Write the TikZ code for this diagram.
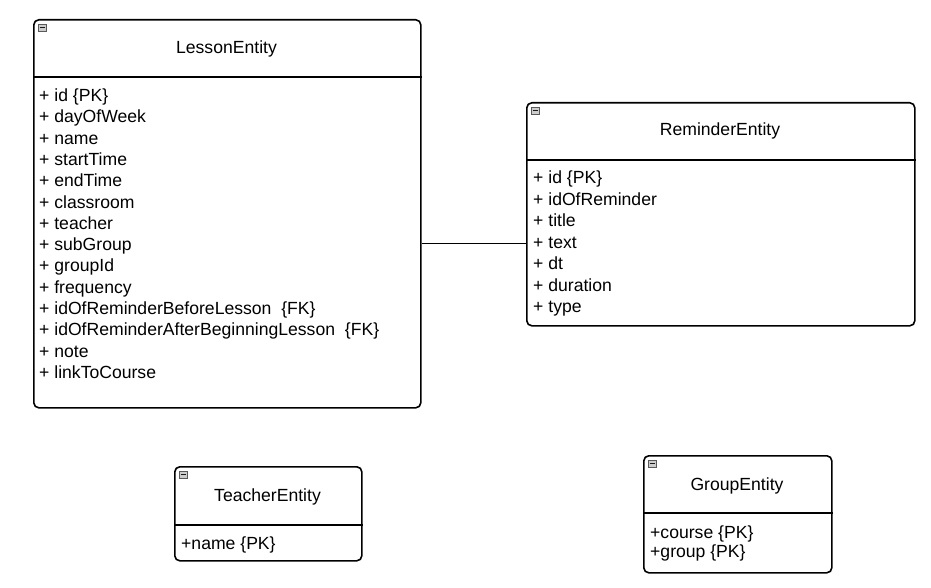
\documentclass[tikz,border=0pt]{standalone}
\usepackage{fontspec}
\setmainfont{Liberation Sans}
\usetikzlibrary{positioning,calc}

\tikzset{
	entity/.style={draw, line width=1.6pt, rounded corners=5pt, anchor=north west, inner sep=0pt},
	ename/.style={font=\fontsize{17.6}{20}\selectfont, anchor=base, inner sep=0pt},
	attr/.style={font=\fontsize{17.6}{20}\selectfont, anchor=base west, inner sep=0pt},
	fold/.style={draw=gray!70!black, fill=gray!40, minimum width=8pt, minimum height=7pt, inner sep=0pt, anchor=north west,
		path picture={\draw[gray!20!black, line width=0.9pt] ($(path picture bounding box.west)+(1.5pt,0)$) -- ($(path picture bounding box.east)+(-1.5pt,0)$);}}
}

\begin{document}
\begin{tikzpicture}[x=1pt,y=1pt]
	\useasboundingbox (0,0) rectangle (931,-588);
	
	% boxes
	\node[entity, minimum width=387pt, minimum height=388pt] (lesson) at (33,-19) {};
	\node[entity, minimum width=388pt, minimum height=223pt] (reminder) at (526,-102) {};
	\node[entity, minimum width=187pt, minimum height=94pt] (teacher) at (174,-466) {};
	\node[entity, minimum width=188pt, minimum height=117pt] (group) at (643,-455) {};
	
	% header lines
	\draw[line width=1.6pt] ($(lesson.north west)+(0,-58)$) -- ($(lesson.north east)+(0,-58)$);
	\draw[line width=1.6pt] ($(reminder.north west)+(0,-58)$) -- ($(reminder.north east)+(0,-58)$);
	\draw[line width=1.6pt] ($(teacher.north west)+(0,-59)$) -- ($(teacher.north east)+(0,-59)$);
	\draw[line width=1.6pt] ($(group.north west)+(0,-58)$) -- ($(group.north east)+(0,-58)$);
	
	% collapse icons
	\node[fold] (lesson-fold) at ($(lesson.north west)+(5,-5)$) {};
	\node[fold] (reminder-fold) at ($(reminder.north west)+(5,-5)$) {};
	\node[fold] (teacher-fold) at ($(teacher.north west)+(5,-5)$) {};
	\node[fold] (group-fold) at ($(group.north west)+(5,-5)$) {};
	
	% titles
	\node[ename] (lesson-name) at (226.5,-54) {LessonEntity};
	\node[ename] (reminder-name) at (720,-136) {ReminderEntity};
	\node[ename] (teacher-name) at (267.5,-501) {TeacherEntity};
	\node[ename] (group-name) at (737,-490) {GroupEntity};
	
	% attributes
	\foreach \t [count=\i] in {+ id \{PK\}, + dayOfWeek, + name, + startTime, + endTime, + classroom, + teacher, + subGroup, + groupId, + frequency, + idOfReminderBeforeLesson~~\{FK\}, + idOfReminderAfterBeginningLesson~~\{FK\}, + note, + linkToCourse}
		\node[attr] (lesson-\i) at (39,{-101.5-21.3*(\i-1)}) {\t};
	
	\foreach \t [count=\i] in {+ id \{PK\}, + idOfReminder, + title, + text, + dt, + duration, + type}
		\node[attr] (reminder-\i) at (533,{-183.5-21.5*(\i-1)}) {\t};
	
	\node[attr] (teacher-1) at (181,-549) {+name \{PK\}};
	\node[attr] (group-1) at (650,-538) {+course \{PK\}};
	\node[attr] (group-2) at (650,-557) {+group \{PK\}};
	
	% link
	\coordinate (link) at (0,-243);
	\draw[line width=0.9pt] (lesson.east |- link) -- (reminder.west |- link);
\end{tikzpicture}
\end{document}
